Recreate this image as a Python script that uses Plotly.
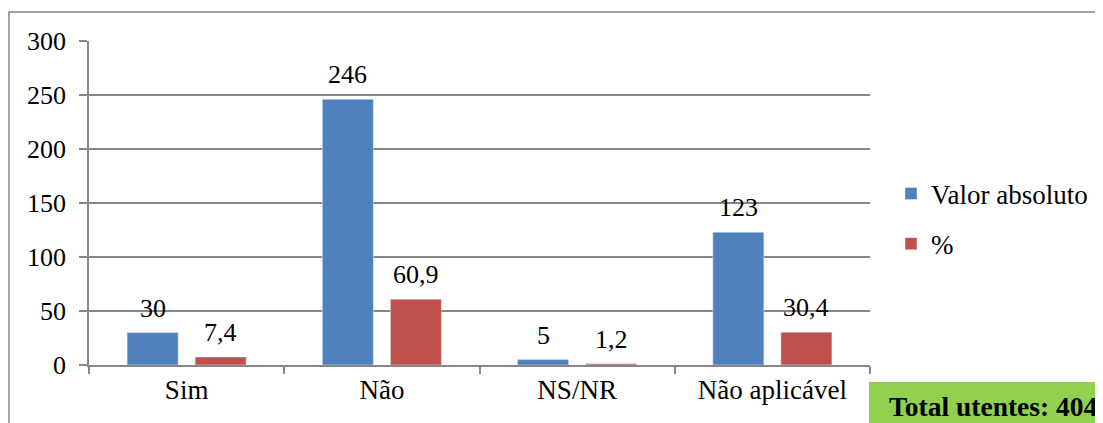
import plotly.graph_objects as go

categories = ["Sim", "Não", "NS/NR", "Não aplicável"]
valor_absoluto = [30, 246, 5, 123]
percent = [7.4, 60.9, 1.2, 30.4]
y_ticks = [0, 50, 100, 150, 200, 250, 300]
total_text = "Total utentes: 404"

font_family = "Liberation Serif"
grey = "#878787"
FS = 26

# the page body has an 8px margin, so work in screen pixels and shift
OFF = 8
FIG_W, FIG_H = 1103 - OFF, 423 - OFF

fig = go.Figure()
fig.add_trace(go.Bar(x=categories, y=valor_absoluto, name="Valor absoluto",
                     marker_color="#4F81BD", legendgroup="a"))
fig.add_trace(go.Bar(x=categories, y=percent, name="%",
                     marker_color="#C0504D", legendgroup="b"))

# value labels, a little above each bar (blue left, red right of category)
for vals, shift in ((valor_absoluto, -34), (percent, 34)):
    for cat, v in zip(categories, vals):
        fig.add_annotation(x=cat, y=v, xshift=shift, yshift=8,
                           xanchor="center", yanchor="bottom", showarrow=False,
                           text=f"{v}".replace(".", ","),
                           font=dict(size=FS, color="black", family=font_family))

# plot area on screen: x 89..870, y 41..365
L, R, T, B = 89, 870, 41, 365
W, H = R - L, B - T


def px(x):
    return (x - L) / W


def py(y):
    return (B - y) / H


fig.add_shape(type="rect", xref="paper", yref="paper",
              x0=px(9), x1=px(1120), y0=py(440), y1=py(12),
              line=dict(color=grey, width=1.5), fillcolor="rgba(0,0,0,0)", layer="below")
fig.add_shape(type="rect", xref="paper", yref="paper",
              x0=px(869), x1=px(1110), y0=py(440), y1=py(382),
              line=dict(width=0), fillcolor="#92D050")
fig.add_annotation(xref="paper", yref="paper", x=px(993), y=py(407),
                   xanchor="center", yanchor="middle",
                   text="<b>" + total_text + "</b>", showarrow=False,
                   font=dict(size=27.5, color="black", family=font_family))

fig.update_layout(
    width=FIG_W, height=FIG_H,
    margin=dict(l=L - OFF, r=1103 - R, t=T - OFF, b=423 - B, autoexpand=False),
    paper_bgcolor="white", plot_bgcolor="white",
    font=dict(family=font_family, size=FS, color="black"),
    barmode="group", bargap=0.303, bargroupgap=0.25,
    showlegend=True,
    legend=dict(x=px(891), y=py(219), xanchor="left", yanchor="middle",
                font=dict(size=27, family=font_family), tracegroupgap=12,
                traceorder="grouped", itemwidth=30),
)
fig.update_xaxes(
    showline=True, linecolor=grey, linewidth=1.5,
    ticks="outside", tickson="boundaries", ticklen=7, tickcolor=grey, tickwidth=1.5,
    showgrid=False, tickfont=dict(size=27, family=font_family),
)
fig.update_yaxes(
    range=[0, 300], tickvals=y_ticks,
    showline=True, linecolor=grey, linewidth=1.5,
    ticks="outside", ticklen=8, tickcolor=grey, tickwidth=1.5,
    showgrid=True, gridcolor=grey, gridwidth=1.5,
    zeroline=False, tickfont=dict(size=FS, family=font_family), ticklabelstandoff=8,
)

fig.write_html("out.html")
